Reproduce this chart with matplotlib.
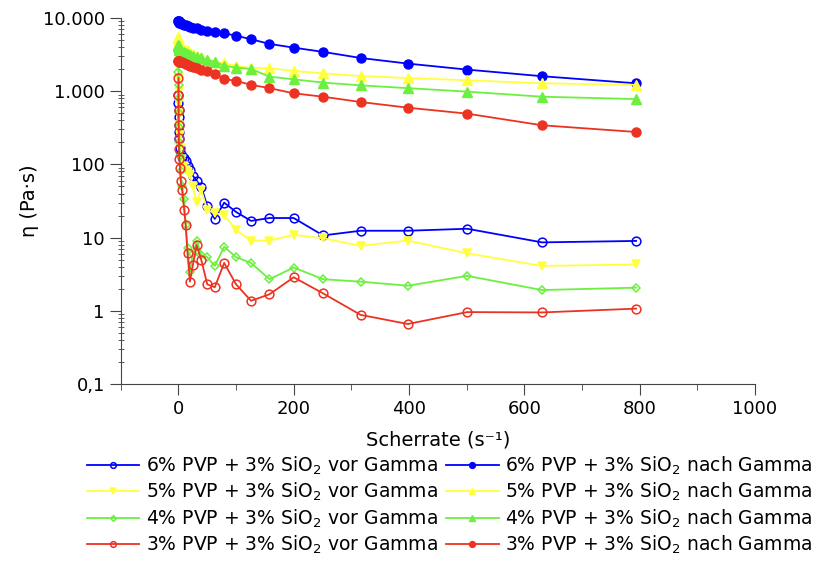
import matplotlib
matplotlib.use("Agg")
import matplotlib.pyplot as plt
from matplotlib.ticker import FixedLocator, NullFormatter

plt.rcParams['font.family'] = ['DejaVu Sans']
plt.rcParams['mathtext.fontset'] = 'dejavusans'

# Scherrate (1/s)
scherrate = [0.1, 0.158, 0.251, 0.398, 0.631, 1, 1.58, 2.51, 3.98, 6.31,
             10, 12.6, 15.8, 20, 25.1, 31.6, 39.8, 50.1, 63.1, 79.4,
             100, 126, 158, 200, 251, 316, 398, 501, 631, 794]

# Viskositaet (Pa*s) vor Gamma
pvp6_vor = [900, 700, 560, 440, 350, 280, 220, 170, 140, 125,
            121, 110, 95, 84, 70, 60, 49, 27, 18, 30,
            22.4, 16.9, 18.5, 18.5, 10.7, 12.4, 12.4, 13.2, 8.6, 9.0]
pvp5_vor = [3000, 2200, 1500, 1000, 700, 500, 350, 250, 170, 120,
            95, 85, 78, 72, 50, 31, 44.7, 23.8, 21.5, 20.4,
            12.7, 9.1, 9.1, 10.9, 9.8, 7.7, 9.1, 6.1, 4.1, 4.3]
pvp4_vor = [2500, 1800, 1200, 800, 500, 320, 200, 130, 80, 50,
            34, 15, 7.1, 3.4, 6.0, 9.1, 5.8, 5.4, 4.1, 7.5,
            5.4, 4.5, 2.7, 3.9, 2.7, 2.5, 2.2, 3.0, 1.92, 2.07]
pvp3_vor = [1500, 900, 550, 350, 230, 160, 120, 90, 60, 45,
            23.8, 14.9, 6.1, 2.5, 4.2, 7.9, 4.9, 2.3, 2.1, 4.5,
            2.3, 1.37, 1.68, 2.87, 1.73, 0.88, 0.66, 0.96, 0.95, 1.07]

# Viskositaet (Pa*s) nach Gamma
pvp6_nach = [9200, 9100, 9000, 8900, 8800, 8700, 8600, 8500, 8400, 8300,
             8100, 7900, 7800, 7600, 7400, 7200, 6950, 6700, 6500, 6170,
             5730, 5120, 4420, 3930, 3440, 2840, 2380, 1970, 1600, 1280]
pvp5_nach = [5500, 5200, 5000, 4800, 4600, 4400, 4200, 4000, 3900, 3800,
             3700, 3600, 3500, 3350, 3200, 3050, 2900, 2700, 2530, 2400,
             2230, 2060, 2060, 1890, 1750, 1610, 1510, 1410, 1280, 1220]
pvp4_nach = [4300, 4200, 4100, 4000, 3900, 3800, 3700, 3600, 3500, 3450,
             3400, 3300, 3200, 3100, 3000, 2900, 2800, 2700, 2530, 2230,
             2100, 2010, 1580, 1450, 1310, 1200, 1100, 985, 840, 780]
pvp3_nach = [2600, 2600, 2580, 2570, 2560, 2550, 2540, 2530, 2520, 2510,
             2450, 2350, 2300, 2230, 2150, 2050, 1950, 1890, 1720, 1470,
             1380, 1220, 1100, 935, 840, 711, 595, 493, 342, 277]

farben = ['#0000ff', '#ffff40', '#6cf040', '#ec3322']
prozente = ['6%', '5%', '4%', '3%']
vor = [pvp6_vor, pvp5_vor, pvp4_vor, pvp3_vor]
nach = [pvp6_nach, pvp5_nach, pvp4_nach, pvp3_nach]
marker_vor = ['o', 'v', 'D', 'o']
marker_nach = ['o', '^', '^', 'o']

fig = plt.figure(figsize=(8.16, 5.61), dpi=100)
ax = fig.add_axes([0.148, 0.3155, 0.777, 0.6525])

handles_vor = []
handles_nach = []
for i in range(4):
    ms = 4.5 if marker_vor[i] == 'D' else 6.3
    h, = ax.plot(scherrate, vor[i], color=farben[i], marker=marker_vor[i],
                 markersize=ms, lw=1.3, clip_on=False,
                 markerfacecolor=farben[i] if marker_vor[i] == 'v' else 'none',
                 markeredgewidth=1.1,
                 label=prozente[i] + ' PVP + 3% SiO$_2$ vor Gamma')
    handles_vor.append(h)
for i in range(4):
    h, = ax.plot(scherrate, nach[i], color=farben[i], marker=marker_nach[i],
                 markersize=6.5, lw=1.3, clip_on=False,
                 label=prozente[i] + ' PVP + 3% SiO$_2$ nach Gamma')
    handles_nach.append(h)

ax.set_yscale('log')
ax.set_xlim(-100, 1000)
ax.set_ylim(0.1, 10000)
ax.set_yticks([0.1, 1, 10, 100, 1000, 10000])
ax.set_yticklabels(['0,1', '1', '10', '100', '1.000', '10.000'])
ax.yaxis.set_minor_locator(FixedLocator(
    [m * 10.0 ** e for e in range(-1, 4) for m in range(2, 10)]))
ax.yaxis.set_minor_formatter(NullFormatter())
ax.set_xticks([0, 200, 400, 600, 800, 1000])
ax.xaxis.set_minor_locator(FixedLocator([-100, 100, 300, 500, 700, 900]))

for s in ['top', 'right']:
    ax.spines[s].set_visible(False)
for s in ['left', 'bottom']:
    ax.spines[s].set_color('#444444')
ax.tick_params(axis='both', which='major', direction='out', length=8,
               color='#444444', labelsize=13)
ax.tick_params(axis='y', which='minor', direction='inout', length=4,
               color='#444444')
ax.tick_params(axis='x', which='minor', direction='out', length=4,
               color='#444444')

ax.set_xlabel('Scherrate (s⁻¹)', fontsize=14, labelpad=9)
ax.set_ylabel('η (Pa·s)', fontsize=14, labelpad=3)

fig.legend(handles_vor + handles_nach,
           [h.get_label() for h in handles_vor + handles_nach],
           ncol=2, loc='upper center', bbox_to_anchor=(0.551, 0.22),
           frameon=False, fontsize=13.5, handlelength=2.8, handletextpad=0.35,
           columnspacing=0.45, labelspacing=0.22, markerscale=0.65)

fig.savefig('out.png', dpi=100)
